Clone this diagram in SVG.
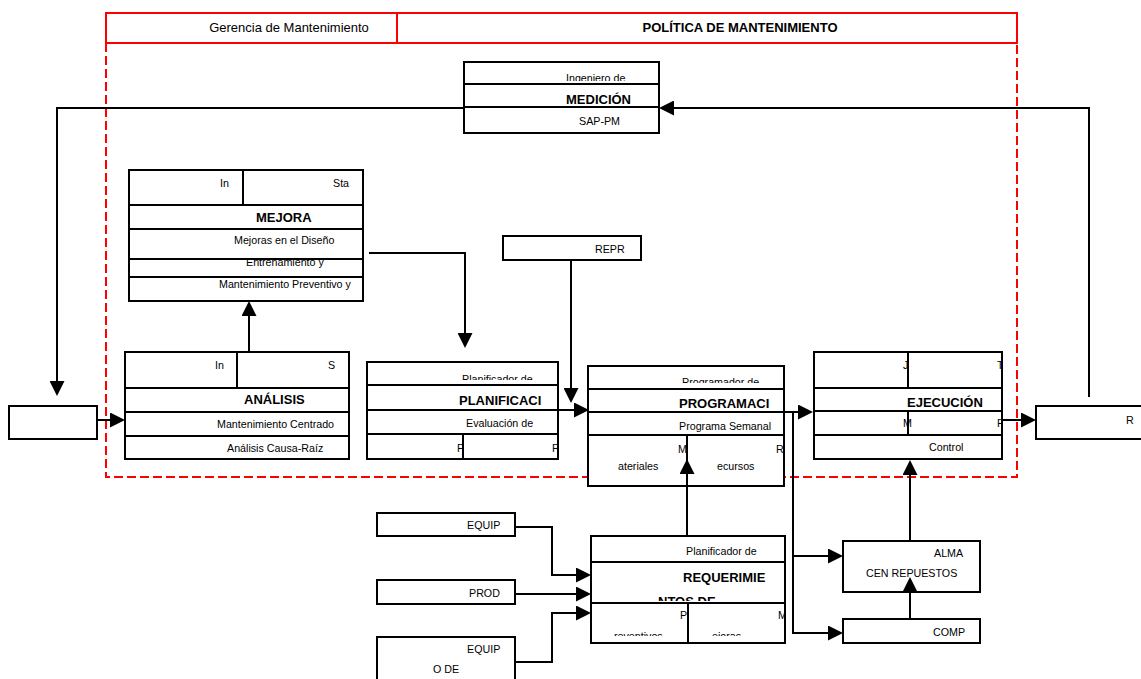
<svg xmlns="http://www.w3.org/2000/svg" width="1141" height="679" viewBox="0 0 1141 679">
  <style>
    .box { fill: #fff; stroke: #000; stroke-width: 2; }
    .div { stroke: #000; stroke-width: 2; fill: none; }
    .con { stroke: #000; stroke-width: 2; fill: none; marker-end: url(#ah); }
    .plain { stroke: #000; stroke-width: 2; fill: none; }
    .frame { stroke: #ff0000; stroke-width: 2; fill: none; }
    .dash { stroke: #ff0000; stroke-width: 2; fill: none; stroke-dasharray: 9 4; }
    text { font-family: "Liberation Sans", Arial, sans-serif; fill: #000; }
    .t { font-size: 10.7px; }
    .h { font-size: 13px; }
    .b { font-size: 13px; font-weight: bold; }
  </style>
  <defs>
    <marker id="ah" viewBox="0 0 10 10" refX="7" refY="5" markerWidth="15" markerHeight="15" markerUnits="userSpaceOnUse" orient="auto">
      <path d="M0,0 L10,5 L0,10 z" fill="#000"/>
    </marker>
    <clipPath id="c-med-top"><rect x="464" y="62" width="195" height="19"/></clipPath>
    <clipPath id="c-plan-top"><rect x="367" y="362" width="191" height="18"/></clipPath>
    <clipPath id="c-plan"><rect x="367" y="362" width="191" height="97"/></clipPath>
    <clipPath id="c-prog-top"><rect x="588" y="366" width="196" height="17"/></clipPath>
    <clipPath id="c-prog"><rect x="588" y="366" width="196" height="120"/></clipPath>
    <clipPath id="c-ejec"><rect x="814" y="352" width="188" height="107"/></clipPath>
    <clipPath id="c-req-mid"><rect x="591" y="562" width="194" height="39"/></clipPath>
    <clipPath id="c-req-bot"><rect x="591" y="603" width="194" height="33"/></clipPath>
  </defs>

  <!-- policy frame -->
  <g id="policy-frame">
    <path class="dash" d="M106,43 V477 H1017 V43"/>
    <rect class="frame" x="106" y="13" width="911" height="30"/>
    <line class="frame" x1="397" y1="13" x2="397" y2="43"/>
    <text class="h" x="289" y="32" text-anchor="middle">Gerencia de Mantenimiento</text>
    <text class="b" x="740" y="32" text-anchor="middle">POLÍTICA DE MANTENIMIENTO</text>
  </g>

  <!-- connectors -->
  <g id="connectors">
    <path class="con" d="M1089,397 V108 H663.5"/>
    <path class="con" d="M464,108 H57 V391.5"/>
    <path class="con" d="M97,420 H120.5"/>
    <path class="con" d="M249,352 V305.5"/>
    <path class="con" d="M369,253 H465 V343.5"/>
    <path class="con" d="M571,260 V398.5"/>
    <path class="con" d="M552,410 H584.5"/>
    <path class="con" d="M784,412 H808.5"/>
    <path class="con" d="M793,412 V633 H838.5"/>
    <path class="con" d="M793,556 H838.5"/>
    <path class="con" d="M1002,420 H1031.5"/>
    <path class="con" d="M515,527 H552 V575 H586.5"/>
    <path class="con" d="M515,594 H586.5"/>
    <path class="con" d="M515,662 H552 V613 H586.5"/>
  </g>

  <!-- measurement -->
  <g id="medicion">
    <rect class="box" x="464" y="62" width="195" height="71"/>
    <text class="t" x="566" y="82" clip-path="url(#c-med-top)">Ingeniero de</text>
    <text class="b" x="566" y="104">MEDICIÓN</text>
    <text class="t" x="579" y="125" font-size="10">SAP-PM</text>
    <line class="div" x1="464" y1="84" x2="659" y2="84"/>
    <line class="div" x1="464" y1="107" x2="659" y2="107"/>
  </g>

  <!-- improvement -->
  <g id="mejora">
    <rect class="box" x="129" y="170" width="234" height="131"/>
    <text class="t" x="220" y="187">In</text>
    <text class="t" x="333" y="187">Sta</text>
    <text class="b" x="256" y="222">MEJORA</text>
    <text class="t" x="234" y="244">Mejoras en el Diseño</text>
    <text class="t" x="246" y="266">Entrenamiento y</text>
    <text class="t" x="219" y="288">Mantenimiento Preventivo y</text>
    <line class="div" x1="243" y1="170" x2="243" y2="205"/>
    <line class="div" x1="129" y1="205" x2="363" y2="205"/>
    <line class="div" x1="129" y1="229" x2="363" y2="229"/>
    <line class="div" x1="129" y1="259" x2="363" y2="259"/>
    <line class="div" x1="129" y1="277" x2="363" y2="277"/>
  </g>

  <!-- analysis -->
  <g id="analisis">
    <rect class="box" x="125" y="352" width="224" height="107"/>
    <text class="t" x="215" y="369">In</text>
    <text class="t" x="328" y="369">S</text>
    <text class="b" x="244" y="404">ANÁLISIS</text>
    <text class="t" x="217" y="428">Mantenimiento Centrado</text>
    <text class="t" x="227" y="452">Análisis Causa-Raíz</text>
    <line class="div" x1="237" y1="352" x2="237" y2="388"/>
    <line class="div" x1="125" y1="388" x2="349" y2="388"/>
    <line class="div" x1="125" y1="412" x2="349" y2="412"/>
    <line class="div" x1="125" y1="436" x2="349" y2="436"/>
  </g>

  <!-- input box at left -->
  <g id="entrada">
    <rect class="box" x="9" y="406" width="88" height="33"/>
  </g>

  <!-- spare parts request -->
  <g id="repr">
    <rect class="box" x="503" y="236" width="138" height="24"/>
    <text class="t" x="595" y="253">REPR</text>
  </g>

  <!-- planning -->
  <g id="planificacion">
    <rect class="box" x="367" y="362" width="191" height="97"/>
    <text class="t" x="462" y="383" clip-path="url(#c-plan-top)">Planificador de</text>
    <g clip-path="url(#c-plan)">
      <text class="b" x="459" y="405">PLANIFICACI</text>
      <text class="t" x="466" y="427">Evaluación  de</text>
      <text class="t" x="457" y="452">P</text>
      <text class="t" x="552" y="452">P</text>
    </g>
    <line class="div" x1="367" y1="385" x2="558" y2="385"/>
    <line class="div" x1="367" y1="410" x2="558" y2="410"/>
    <line class="div" x1="367" y1="434" x2="558" y2="434"/>
    <line class="div" x1="463" y1="434" x2="463" y2="459"/>
    <rect class="box" x="367" y="362" width="191" height="97" fill="none" style="fill:none"/>
  </g>

  <!-- scheduling -->
  <g id="programacion">
    <rect class="box" x="588" y="366" width="196" height="120"/>
    <text class="t" x="682" y="386" clip-path="url(#c-prog-top)">Programador de</text>
    <g clip-path="url(#c-prog)">
      <text class="b" x="679" y="408">PROGRAMACI</text>
      <text class="t" x="679" y="430">Programa Semanal</text>
      <text class="t" x="678" y="453">M</text>
      <text class="t" x="776" y="453">R</text>
      <text class="t" x="618" y="470">ateriales</text>
      <text class="t" x="717" y="470">ecursos</text>
    </g>
    <line class="div" x1="588" y1="389" x2="784" y2="389"/>
    <line class="div" x1="588" y1="412" x2="784" y2="412"/>
    <line class="div" x1="588" y1="435" x2="784" y2="435"/>
    <line class="div" x1="687" y1="435" x2="687" y2="486"/>
    <rect class="box" x="588" y="366" width="196" height="120" style="fill:none"/>
  </g>

  <!-- execution -->
  <g id="ejecucion">
    <rect class="box" x="814" y="352" width="188" height="107"/>
    <g clip-path="url(#c-ejec)">
      <text class="t" x="903" y="369">J</text>
      <text class="t" x="997" y="369">T</text>
      <text class="b" x="907" y="407">EJECUCIÓN</text>
      <text class="t" x="903" y="427">M</text>
      <text class="t" x="997" y="427">R</text>
      <text class="t" x="929" y="451">Control</text>
    </g>
    <line class="div" x1="814" y1="388" x2="1002" y2="388"/>
    <line class="div" x1="814" y1="411" x2="1002" y2="411"/>
    <line class="div" x1="814" y1="435" x2="1002" y2="435"/>
    <line class="div" x1="908" y1="352" x2="908" y2="388"/>
    <line class="div" x1="908" y1="411" x2="908" y2="435"/>
    <rect class="box" x="814" y="352" width="188" height="107" style="fill:none"/>
  </g>

  <!-- result -->
  <g id="resultado">
    <rect class="box" x="1036" y="406" width="114" height="33"/>
    <text class="t" x="1126" y="424">R</text>
  </g>

  <!-- requirements planning -->
  <g id="requerimientos">
    <rect class="box" x="591" y="536" width="194" height="107"/>
    <text class="t" x="686" y="555">Planificador de</text>
    <text class="b" x="683" y="582">REQUERIMIE</text>
    <text class="b" x="658" y="606" clip-path="url(#c-req-mid)">NTOS DE</text>
    <g clip-path="url(#c-req-bot)">
      <text class="t" x="680" y="619">P</text>
      <text class="t" x="778" y="619">M</text>
      <text class="t" x="614" y="640">reventivos</text>
      <text class="t" x="712" y="640">ejoras</text>
    </g>
    <line class="div" x1="591" y1="562" x2="785" y2="562"/>
    <line class="div" x1="591" y1="603" x2="785" y2="603"/>
    <line class="div" x1="688" y1="603" x2="688" y2="643"/>
    <rect class="box" x="591" y="536" width="194" height="107" style="fill:none"/>
  </g>

  <!-- inputs to requirements -->
  <g id="equipo-1">
    <rect class="box" x="377" y="513" width="138" height="23"/>
    <text class="t" x="467" y="529">EQUIP</text>
  </g>
  <g id="produccion">
    <rect class="box" x="377" y="580" width="138" height="24"/>
    <text class="t" x="469" y="597">PROD</text>
  </g>
  <g id="equipo-2">
    <rect class="box" x="377" y="637" width="138" height="60"/>
    <text class="t" x="467" y="653">EQUIP</text>
    <text class="t" x="433" y="673">O DE</text>
  </g>

  <!-- warehouse and purchasing -->
  <g id="almacen">
    <rect class="box" x="843" y="541" width="137" height="51"/>
    <text class="t" x="934" y="557">ALMA</text>
    <text class="t" x="866" y="577">CEN REPUESTOS</text>
  </g>
  <g id="compras">
    <rect class="box" x="843" y="619" width="137" height="24"/>
    <text class="t" x="933" y="636">COMP</text>
  </g>

  <!-- arrows that enter boxes from below -->
  <g id="connectors-up">
    <path class="con" d="M910,541 V464.5"/>
    <path class="con" d="M910,619 V581.5"/>
    <path class="con" d="M687,536 V463.5"/>
  </g>
</svg>
